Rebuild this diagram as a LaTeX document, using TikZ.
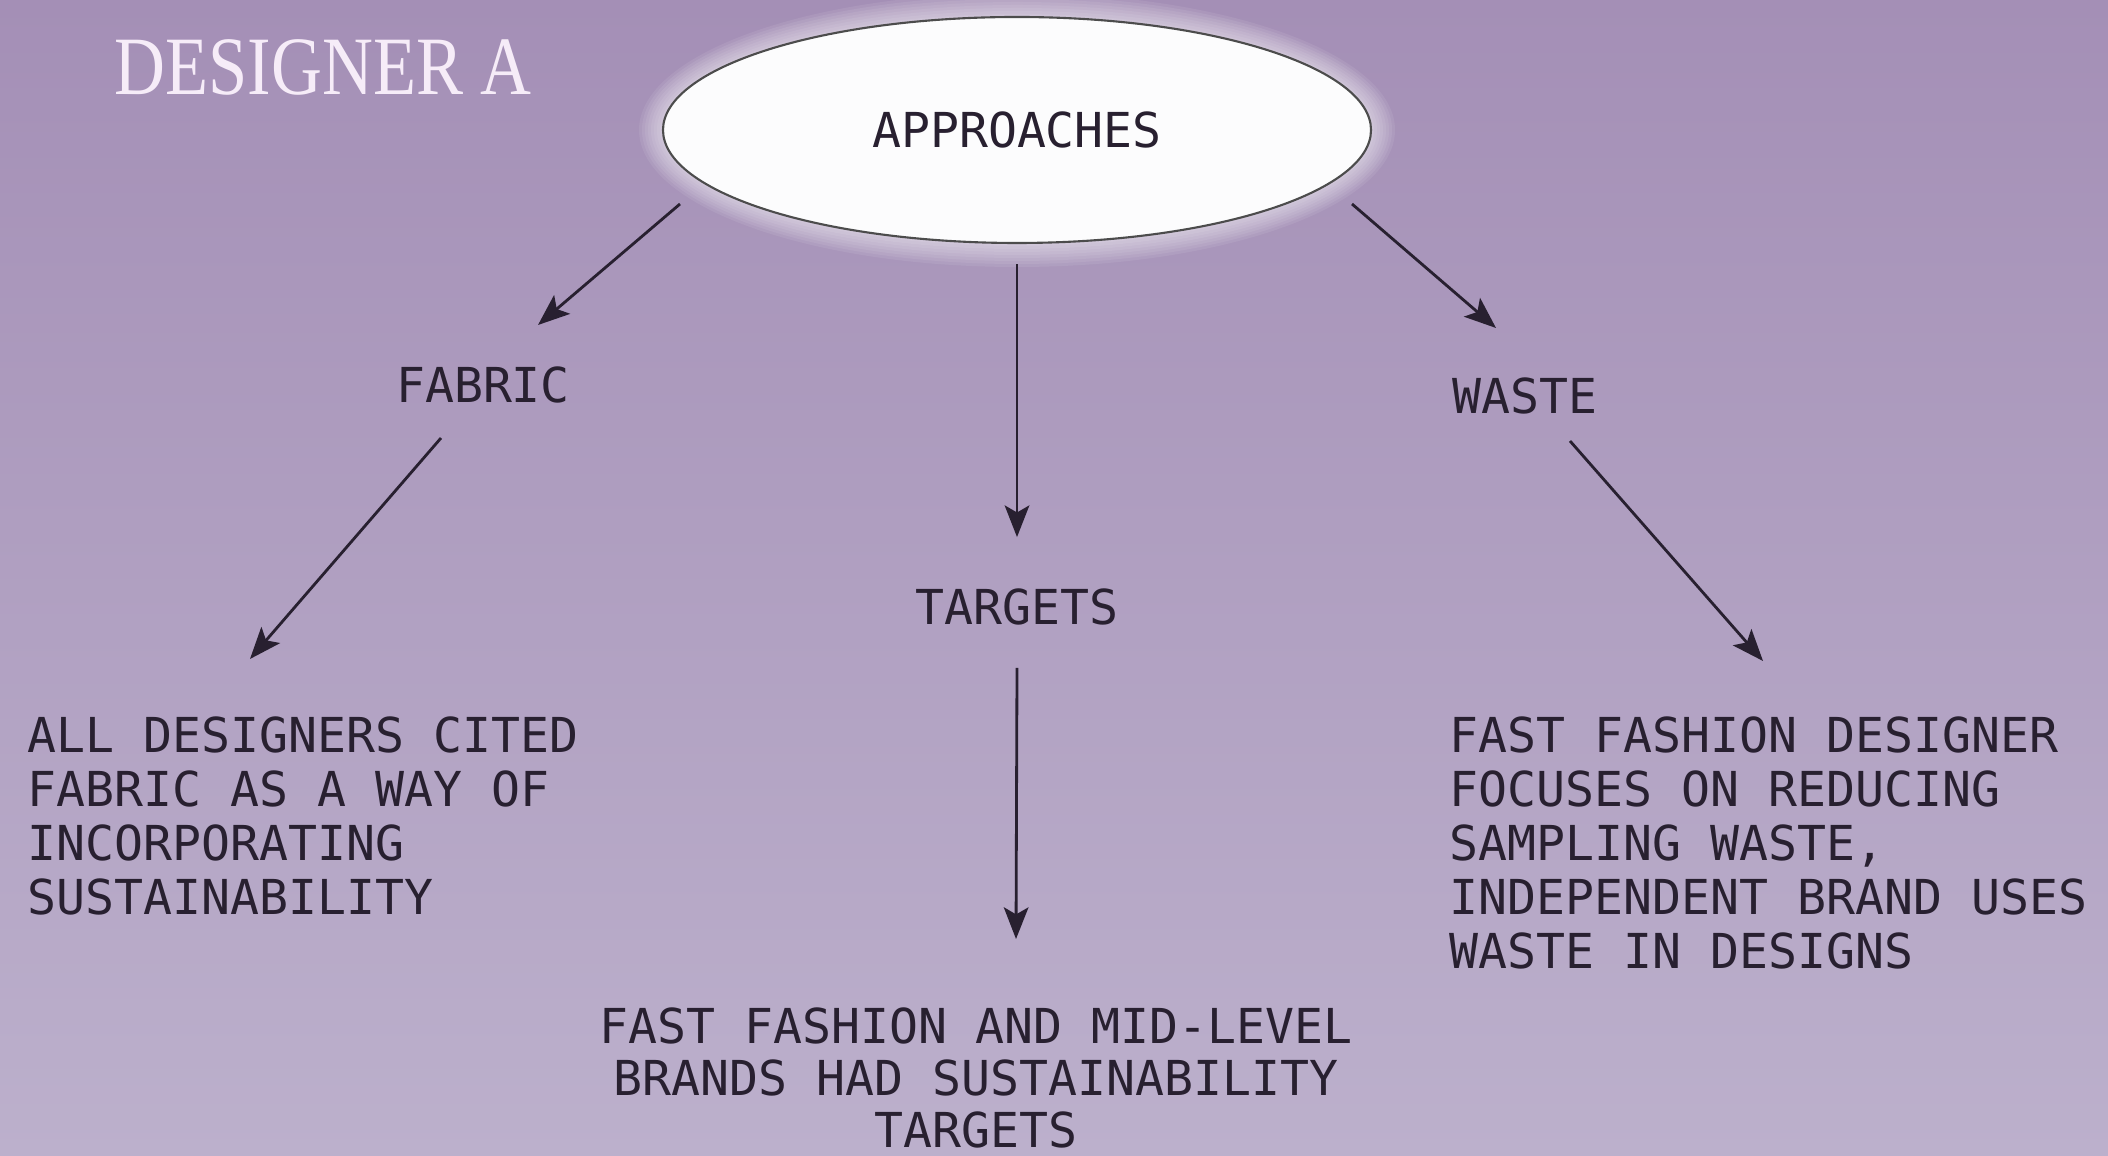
\documentclass[tikz,border=0pt]{standalone}
\usepackage{fontspec}
\setmonofont{DejaVu Sans Mono}
\newfontfamily\titlefont{Liberation Serif}
\usetikzlibrary{arrows.meta,shapes.geometric}
\definecolor{bgtop}{RGB}{164,143,182}
\definecolor{bgbot}{RGB}{188,176,204}
\definecolor{ink}{RGB}{40,32,48}
\definecolor{titlecol}{RGB}{246,236,248}

\begin{document}
\begin{tikzpicture}[
    label text/.style={font=\ttfamily\fontsize{13.7}{15.4}\selectfont, text=ink, inner sep=0pt},
    arr/.style={-{Stealth[length=9pt,width=7pt,inset=2pt]}, draw=ink, line width=0.8pt}]
    % Background
    \useasboundingbox (0,0) rectangle (21.08,-11.56);
    \shade[top color=bgtop, bottom color=bgbot] (0,0) rectangle (21.08,-11.56);

    % Title
    \node[anchor=west, inner sep=0pt, text=titlecol] (title) at (1.14,-0.675) {\titlefont\fontsize{23.6}{24}\selectfont\scalebox{0.85}[1]{DESIGNER A}};

    % Glow round the ellipse
    \foreach \r in {0.03,0.06,...,0.24}
      \fill[white, opacity=0.08] (10.17,-1.30) ellipse [x radius={3.54+\r}, y radius={1.13+\r}];

    % Central ellipse
    \node[ellipse, draw=black!70, line width=0.6pt, fill=white!97!bgtop, minimum width=7.08cm, minimum height=2.26cm, label text] (approach) at (10.17,-1.30) {APPROACHES};

    % Branches
    \node[label text] (fabric) at (4.83,-3.85) {FABRIC};
    \node[label text] (waste) at (15.25,-3.96) {WASTE};
    \node[label text] (targets) at (10.17,-6.07) {TARGETS};

    % Findings
    \node[label text, align=left, anchor=north west] (fabtext) at (0.27,-7.16) {ALL DESIGNERS CITED\\FABRIC AS A WAY OF\\INCORPORATING\\SUSTAINABILITY};
    \node[label text, align=left, anchor=north west] (wastetext) at (14.49,-7.16) {FAST FASHION DESIGNER\\FOCUSES ON REDUCING\\SAMPLING WASTE,\\INDEPENDENT BRAND USES\\WASTE IN DESIGNS};
    \node[label text, font=\ttfamily\fontsize{13.7}{14.8}\selectfont, align=center, anchor=north] (targtext) at (9.76,-10.07) {FAST FASHION AND MID-LEVEL\\BRANDS HAD SUSTAINABILITY\\TARGETS};

    % Arrows
    \draw[arr] ([xshift=-3.37cm,yshift=-7.4mm]approach.center) -- ([xshift=5.5mm,yshift=6mm]fabric.center);
    \draw[arr] ([yshift=-2mm]approach.south) -- ([yshift=5.1mm]targets.north);
    \draw[arr] ([xshift=3.35cm,yshift=-7.4mm]approach.center) -- ([xshift=-2.9mm,yshift=6.8mm]waste.center);
    \draw[arr] ([xshift=-4.2mm,yshift=-5.3mm]fabric.center) -- ([xshift=2.23cm,yshift=5.7mm]fabtext.north west);
    \draw[arr] ([yshift=-4.2mm]targets.south) -- ([xshift=4mm,yshift=6.8mm]targtext.north);
    \draw[arr] ([xshift=4.5mm,yshift=-4.5mm]waste.center) -- ([xshift=3.14cm,yshift=5.5mm]wastetext.north west);
\end{tikzpicture}
\end{document}
